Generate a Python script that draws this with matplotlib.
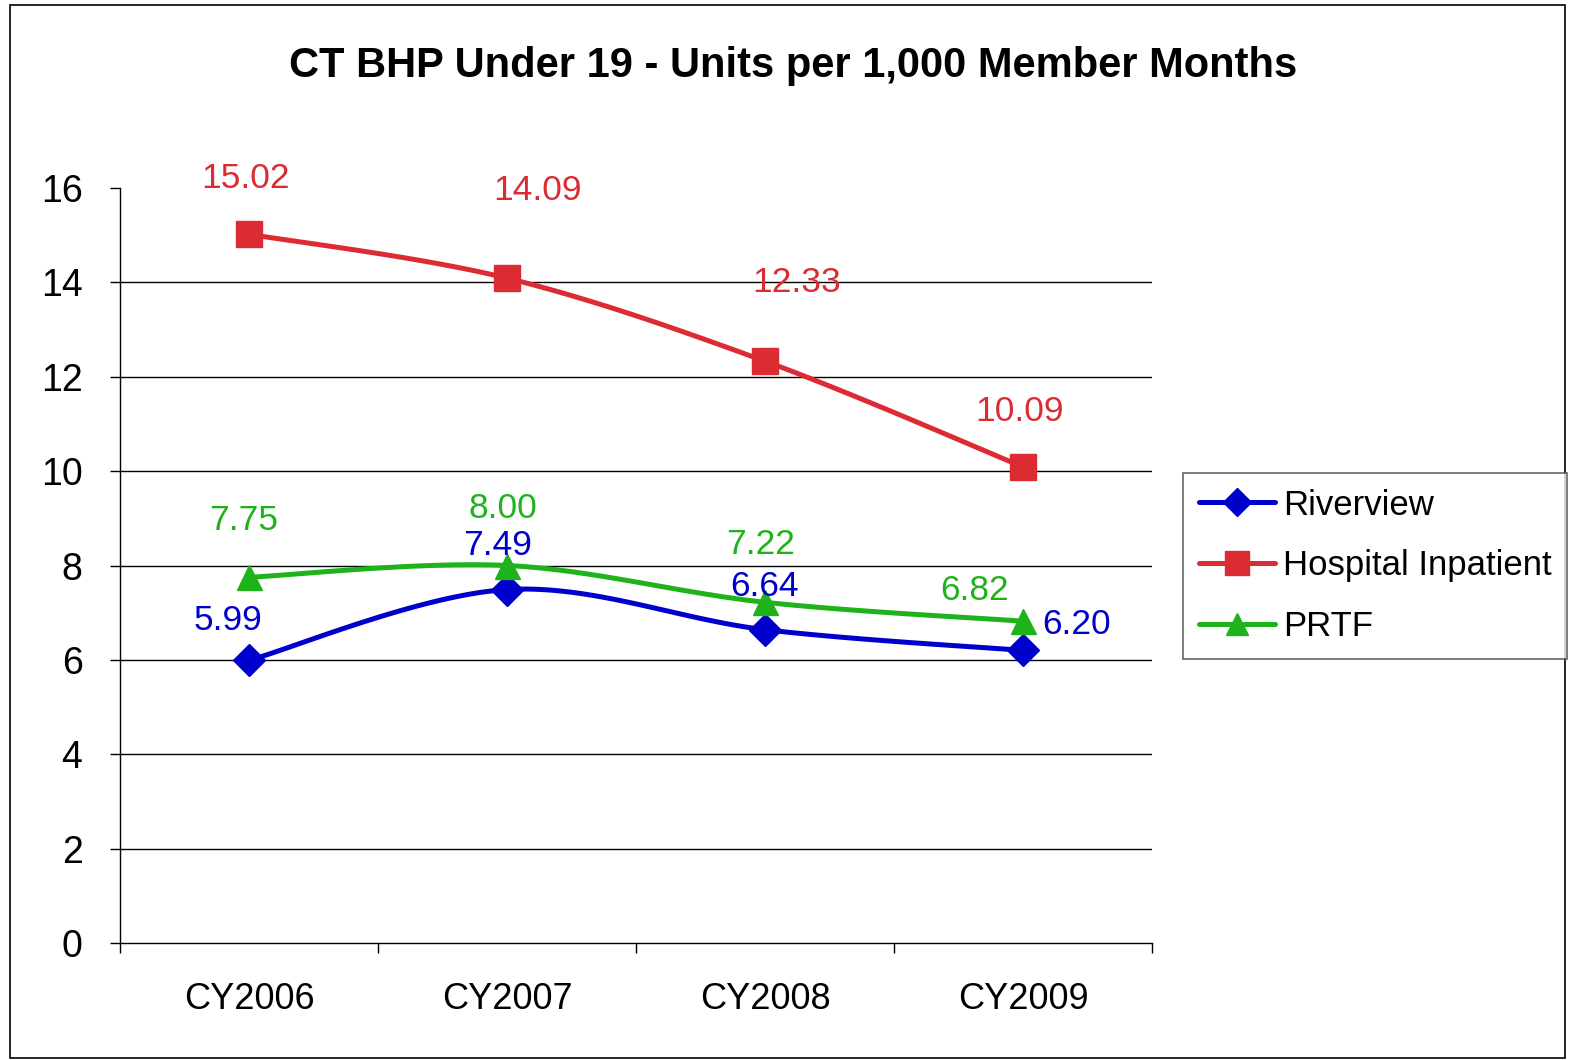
import numpy as np
import matplotlib
matplotlib.use("Agg")
import matplotlib.pyplot as plt
from matplotlib.patches import Rectangle

plt.rcParams['font.family'] = ['Liberation Sans', 'DejaVu Sans']

categories = ["CY2006", "CY2007", "CY2008", "CY2009"]
riverview = [5.99, 7.49, 6.64, 6.20]
hospital = [15.02, 14.09, 12.33, 10.09]
prtf = [7.75, 8.00, 7.22, 6.82]
title = "CT BHP Under 19 - Units per 1,000 Member Months"

BLUE = "#0000CC"
RED = "#DD2B33"
GREEN = "#1EB31A"


def smooth(xs, ys, n=40):
    """Catmull-Rom smoothing through the given points (Excel-style smoothed line)."""
    xs = np.asarray(xs, float)
    ys = np.asarray(ys, float)
    px = np.concatenate([[xs[0]], xs, [xs[-1]]])
    py = np.concatenate([[ys[0]], ys, [ys[-1]]])
    outx, outy = [], []
    for i in range(1, len(px) - 2):
        p0x, p1x, p2x, p3x = px[i - 1], px[i], px[i + 1], px[i + 2]
        p0y, p1y, p2y, p3y = py[i - 1], py[i], py[i + 1], py[i + 2]
        c1x, c1y = p1x + (p2x - p0x) / 6, p1y + (p2y - p0y) / 6
        c2x, c2y = p2x - (p3x - p1x) / 6, p2y - (p3y - p1y) / 6
        t = np.linspace(0, 1, n)
        bx = (1 - t) ** 3 * p1x + 3 * (1 - t) ** 2 * t * c1x + 3 * (1 - t) * t ** 2 * c2x + t ** 3 * p2x
        by = (1 - t) ** 3 * p1y + 3 * (1 - t) ** 2 * t * c1y + 3 * (1 - t) * t ** 2 * c2y + t ** 3 * p2y
        outx.extend(bx)
        outy.extend(by)
    return np.array(outx), np.array(outy)


fig = plt.figure(figsize=(15.7, 10.6), dpi=100)
ax = fig.add_axes([120 / 1570, 1 - 943 / 1060, (1152 - 120) / 1570, (943 - 188) / 1060])

x = np.arange(len(categories))
ax.set_xlim(-0.5, len(categories) - 0.5)
ax.set_ylim(0, 16)

yt = np.arange(0, 17, 2)
for v in yt[1:-1]:
    ax.axhline(v, color="black", lw=1.0, zorder=1)

series = [
    ("Riverview", riverview, BLUE, "D", 16),
    ("Hospital Inpatient", hospital, RED, "s", 19),
    ("PRTF", prtf, GREEN, "^", 18),
]
handles = []
for name, vals, col, mk, ms in series:
    sx, sy = smooth(x, vals)
    ax.plot(sx, sy, color=col, lw=3.6, solid_capstyle="round", zorder=3)
    ax.plot(x, vals, linestyle="none", marker=mk, ms=ms, color=col, zorder=4)
    h, = ax.plot([], [], color=col, lw=3.6, marker=mk, ms=ms * 0.9, solid_capstyle="round")
    handles.append((h, name))

# data labels (offsets in pixels)
lab_off = {
    "Riverview": [(-21, 40), (-9, 44), (0, 43), (54, 26)],
    "Hospital Inpatient": [(-3, 56), (31, 88), (32, 79), (-3, 55)],
    "PRTF": [(-5, 57), (-4, 57), (-4, 58), (-48, 31)],
}
for name, vals, col, mk, ms in series:
    for xi, v, off in zip(x, vals, lab_off[name]):
        ax.annotate(f"{v:.2f}", (xi, v), xytext=off, textcoords="offset pixels",
                    ha="center", va="center", fontsize=25.5, color=col, zorder=5)

ax.set_yticks(yt)
ax.set_yticklabels([str(v) for v in yt], fontsize=27)
ax.set_xticks(x)
ax.set_xticklabels(categories, fontsize=26)
ax.set_xticks(np.arange(-0.5, len(categories)), minor=True)
ax.tick_params(axis="x", which="major", length=0, pad=28)
ax.tick_params(axis="x", which="minor", length=7, width=1, direction="out")
ax.tick_params(axis="y", length=7, width=1, direction="out", pad=20)

for s in ["top", "right"]:
    ax.spines[s].set_visible(False)
for s in ["left", "bottom"]:
    ax.spines[s].set_linewidth(1.0)
    ax.spines[s].set_color("black")

fig.text(793 / 1570, 1 - 66 / 1060, title, ha="center", va="center",
         fontsize=30, fontweight="bold")

leg = fig.legend([h for h, _ in handles], [n for _, n in handles],
                 loc="upper left", bbox_to_anchor=(1183 / 1570, 1 - 473 / 1060),
                 fontsize=25, frameon=True, fancybox=False, edgecolor="#404040",
                 handlelength=2.2, handletextpad=0.22, labelspacing=0.8,
                 borderpad=0.45, borderaxespad=0, markerscale=1.0)
leg.get_frame().set_linewidth(1.2)

fig.patches.append(Rectangle((10 / 1570, 2 / 1060), (1565 - 10) / 1570, (1055 - 2) / 1060,
                             transform=fig.transFigure, fill=False, edgecolor="black", lw=1.2))

fig.savefig("out.png", dpi=100)
